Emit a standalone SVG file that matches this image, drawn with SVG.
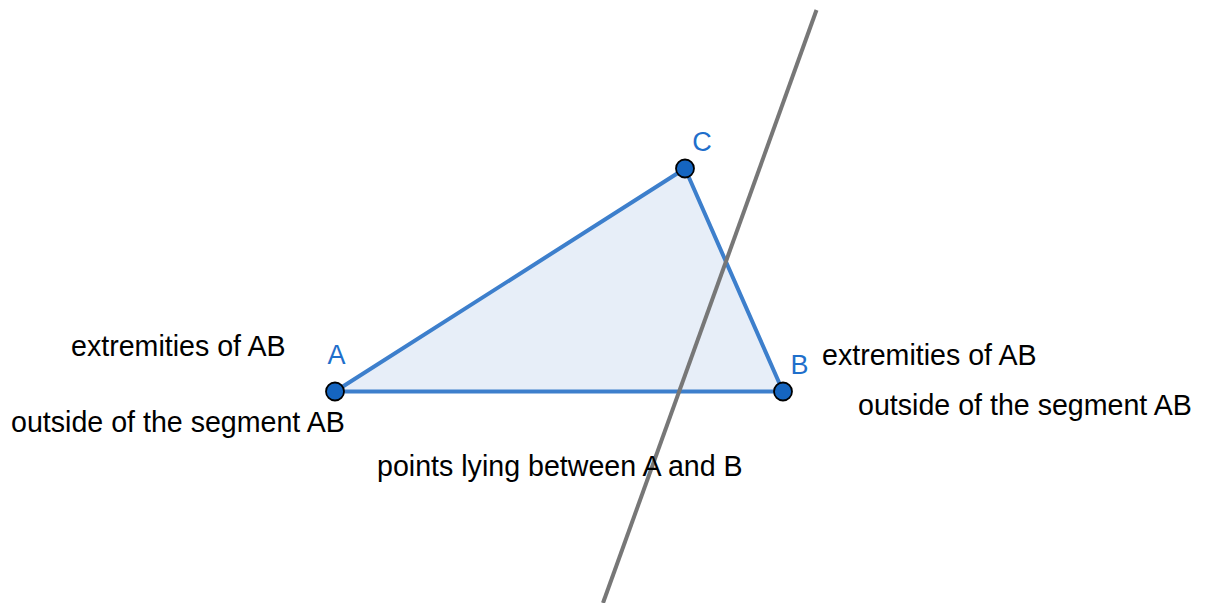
<svg xmlns="http://www.w3.org/2000/svg" width="1205" height="603" viewBox="0 0 1205 603">
<style>
.txt{font-family:"Liberation Sans",Arial,sans-serif;font-size:28.6px;fill:#000}
.lbl{font-family:"Liberation Sans",Arial,sans-serif;font-size:27px;fill:#1f6fcb}
.pt{fill:#1565c0;stroke:#000;stroke-width:1.8}
.side{stroke:#3d7fcc;stroke-width:4;fill:none;stroke-linecap:round}
</style>
<rect width="1205" height="603" fill="#fff"/>
<g id="triangle">
<polygon points="335,391.5 685,168.5 783,391.5" fill="#e7eef8" stroke="none"/>
</g>
<g id="connectors">
<line class="side" x1="335" y1="391.5" x2="685" y2="168.5"/>
<line class="side" x1="685" y1="168.5" x2="783" y2="391.5"/>
<line class="side" x1="335" y1="391.5" x2="783" y2="391.5"/>
<line x1="816.5" y1="10" x2="603" y2="603" stroke="#777" stroke-width="4"/>
</g>
<g id="pointA"><circle class="pt" cx="335" cy="391.5" r="9"/><text class="lbl" x="336.5" y="363.5" text-anchor="middle">A</text></g>
<g id="pointB"><circle class="pt" cx="783" cy="391.5" r="9"/><text class="lbl" x="799.5" y="373.5" text-anchor="middle">B</text></g>
<g id="pointC"><circle class="pt" cx="685" cy="168.5" r="9"/><text class="lbl" x="702" y="150.5" text-anchor="middle">C</text></g>
<g id="labels">
<text class="txt" x="71" y="355.5">extremities of AB</text>
<text class="txt" x="11" y="431.5">outside of the segment AB</text>
<text class="txt" x="822" y="364.5">extremities of AB</text>
<text class="txt" x="858" y="415">outside of the segment AB</text>
<text class="txt" x="377" y="475.5">points lying between A and B</text>
</g>
</svg>
